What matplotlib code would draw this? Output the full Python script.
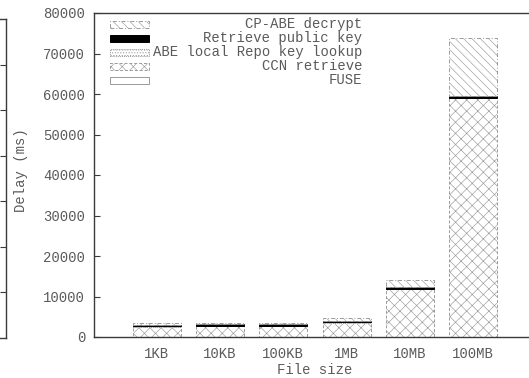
import matplotlib
matplotlib.use("Agg")
import matplotlib.pyplot as plt
from matplotlib.patches import Rectangle
import numpy as np

# ---- data ----
categories = ['1KB', '10KB', '100KB', '1MB', '10MB', '100MB']
fuse = [50, 50, 50, 60, 80, 100]
ccn_retrieve = [2500, 2650, 2650, 3500, 11700, 58900]
abe_lookup = [100, 100, 100, 100, 100, 100]
retrieve_pubkey = [400, 400, 400, 400, 400, 400]
cpabe_decrypt = [300, 300, 300, 600, 1900, 14300]
yticks = [0, 10000, 20000, 30000, 40000, 50000, 60000, 70000, 80000]

plt.rcParams['font.family'] = ['Liberation Mono', 'DejaVu Sans Mono']
plt.rcParams['hatch.linewidth'] = 0.45

W, H = 529, 378
fig = plt.figure(figsize=(W / 100, H / 100), dpi=100)

TXT = '#5a5a5a'
SP = '#3a3a3a'
EDGE = '#9a9a9a'

# partial neighbouring frame at the far left
axl = fig.add_axes([(6 - 300) / W, (H - 338) / H, 300 / W, (338 - 19) / H])
axl.set_xlim(0, 1)
axl.set_ylim(0, 7)
axl.set_xticks([])
axl.set_yticks([1, 2, 3, 4, 5, 6])
axl.yaxis.tick_right()
axl.tick_params(axis='y', direction='in', length=4, width=0.8, colors=SP, labelright=False)
for s in axl.spines.values():
    s.set_color(SP)
    s.set_linewidth(1.0)

# main axes (extends past right edge like the cropped original)
ax = fig.add_axes([93.5 / W, (H - 337) / H, 443 / W, 324 / H])
x = np.arange(1, len(categories) + 1)
bw = 0.76

series = [
    (fuse, dict(facecolor='white', edgecolor=EDGE, linestyle='-', hatch=None)),
    (ccn_retrieve, dict(facecolor='white', edgecolor=EDGE, linestyle=(0, (3, 2)), hatch='xxx')),
    (abe_lookup, dict(facecolor='white', edgecolor=EDGE, linestyle=(0, (1, 1)), hatch='......')),
    (retrieve_pubkey, dict(facecolor='black', edgecolor='black', linestyle='-', hatch=None)),
    (cpabe_decrypt, dict(facecolor='white', edgecolor=EDGE, linestyle=(0, (4, 2, 1, 2)), hatch='\\\\\\\\')),
]
bottom = np.zeros(len(categories))
for vals, st in series:
    ax.bar(x, vals, bw, bottom=bottom, linewidth=0.7, **st)
    bottom += np.array(vals)

ax.set_xlim(0, 7)
ax.set_ylim(0, 80000)
ax.set_xticks(x)
ax.set_xticklabels(categories)
ax.set_yticks(yticks)
ax.tick_params(axis='x', length=0, pad=7, labelsize=10, colors=TXT)
ax.tick_params(axis='y', direction='in', length=4, width=0.8, pad=6, labelsize=10,
               colors=TXT, right=True)
for s in ax.spines.values():
    s.set_color(SP)
    s.set_linewidth(1.0)
ax.tick_params(axis='y', color=SP)

ax.set_xlabel('File size', fontsize=10, color=TXT, labelpad=2)
fig.text(21 / W, 1 - 170 / H, 'Delay (ms)', rotation=90, ha='center', va='center',
         fontsize=10, color=TXT)

# legend (gnuplot style: sample at left, text right-justified)
legend_labels = ['CP-ABE decrypt', 'Retrieve public key', 'ABE local Repo key lookup',
                 'CCN retrieve', 'FUSE']
legend_styles = [series[4][1], series[3][1], series[2][1], series[1][1], series[0][1]]
rows_px = [24, 38, 52, 66, 80]
for lab, st, py in zip(legend_labels, legend_styles, rows_px):
    x0 = (110 - 93.5) / 443
    w = 39 / 443
    hh = 7 / 324
    yc = (337 - py) / 324
    ax.add_patch(Rectangle((x0, yc - hh / 2), w, hh, transform=ax.transAxes,
                           clip_on=False, linewidth=0.7, **st))
    ax.text((362 - 93.5) / 443, yc, lab, transform=ax.transAxes, ha='right',
            va='center', fontsize=10, color=TXT)

fig.savefig('out.png', dpi=100)
